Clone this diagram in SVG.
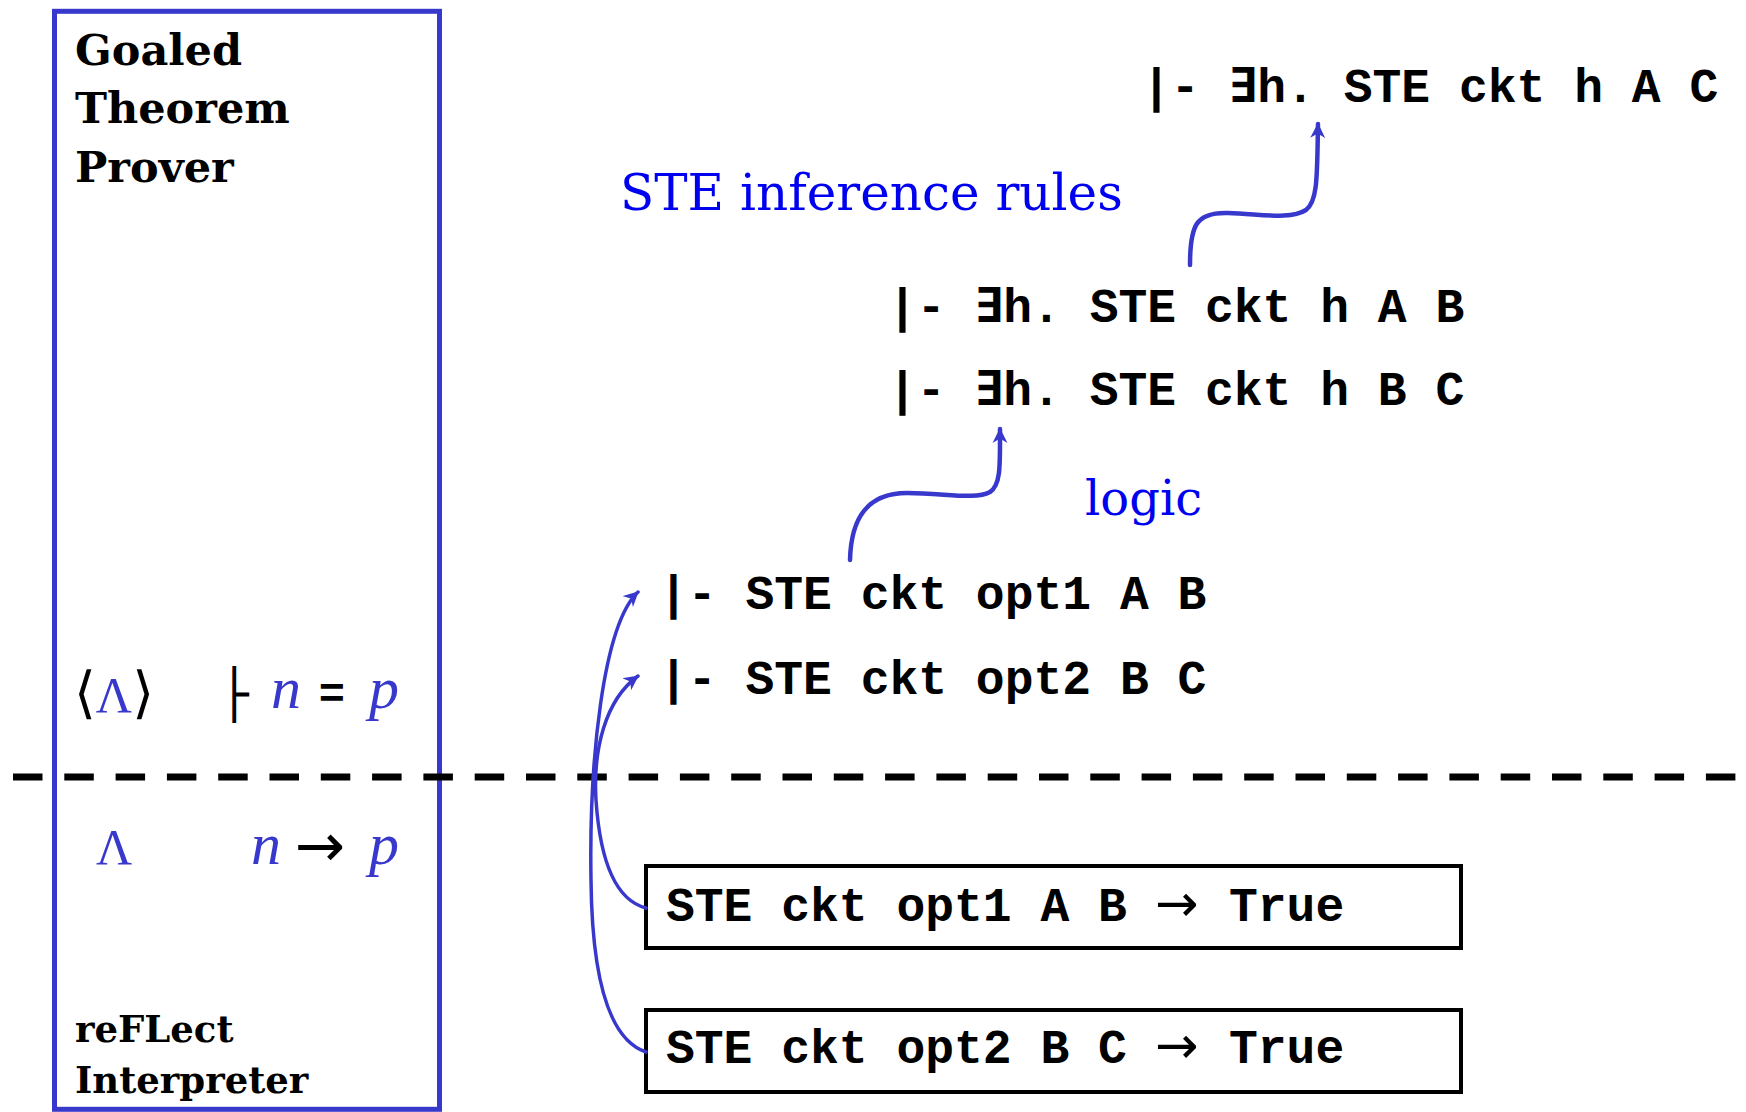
<svg xmlns="http://www.w3.org/2000/svg" width="1746" height="1112" viewBox="0 0 1746 1112">
  <defs>
    <style>
      .mono { font-family: "Liberation Mono", "DejaVu Sans Mono", monospace; font-weight: bold; font-size: 48px; fill: #000; }
      .title { font-family: "DejaVu Serif", "Liberation Serif", serif; font-weight: bold; fill: #000; }
      .label { font-family: "DejaVu Serif", "Liberation Serif", serif; fill: #0000F0; }
      .math { font-family: "Liberation Serif", "DejaVu Serif", serif; fill: #3838CC; }
      .mathi { font-family: "Liberation Serif", "DejaVu Serif", serif; font-style: italic; fill: #3838CC; }
      .arrowch { font-family: "DejaVu Sans", sans-serif; font-weight: normal; fill: #000; }
      .conn { fill: none; stroke: #3838CC; stroke-linecap: round; }
      .box { fill: #fff; stroke: #000; stroke-width: 4; }
    </style>
    <marker id="ah" markerUnits="userSpaceOnUse" markerWidth="16" markerHeight="16" viewBox="0 0 16 16" refX="14" refY="8" orient="auto">
      <path d="M0,0.5 L15,8 L0,15.5 L4.5,8 z" fill="#3838CC"/>
    </marker>
  </defs>
  <rect width="1746" height="1112" fill="#fff"/>

  <!-- left panel -->
  <g id="prover-panel">
    <rect x="54.5" y="11.3" width="385" height="1098" fill="none" stroke="#3838CC" stroke-width="5"/>
    <text class="title" font-size="43" x="75" y="65">Goaled</text>
    <text class="title" font-size="43" x="75" y="123">Theorem</text>
    <text class="title" font-size="43" x="75" y="182">Prover</text>
    <text class="title" font-size="37" x="75" y="1042">reFLect</text>
    <text class="title" font-size="37" x="75" y="1093">Interpreter</text>
  </g>

  <g id="upper-math">
    <text x="74" y="712" font-size="56" font-family="Liberation Serif, DejaVu Serif, serif" fill="#000">⟨<tspan fill="#3838CC" font-size="50">Λ</tspan>⟩</text>
    <text x="220" y="711" font-size="48" font-family="DejaVu Sans Mono, monospace" fill="#000">├</text>
    <text class="mathi" x="271" y="708" font-size="60">n</text>
    <text x="319" y="708" font-size="44" font-family="Liberation Sans, sans-serif" font-weight="bold" fill="#000">=</text>
    <text class="mathi" x="369" y="708" font-size="60">p</text>
  </g>

  <g id="lower-math">
    <text class="math" x="96" y="864" font-size="50">Λ</text>
    <text class="mathi" x="251" y="864" font-size="60">n</text>
    <text class="arrowch" x="295" y="866" font-size="60">→</text>
    <text class="mathi" x="369" y="864" font-size="60">p</text>
  </g>

  <!-- dashed separator -->
  <line x1="13" y1="777" x2="1740" y2="777" stroke="#000" stroke-width="7" stroke-dasharray="29.5 21.8"/>

  <!-- theorem nodes -->
  <g id="goal-AC"><text class="mono" x="1142" y="102">|- ∃h. STE ckt h A C</text></g>
  <g id="lemma-AB"><text class="mono" x="888" y="322">|- ∃h. STE ckt h A B</text></g>
  <g id="lemma-BC"><text class="mono" x="888" y="405">|- ∃h. STE ckt h B C</text></g>
  <g id="thm-opt1"><text class="mono" x="659" y="609">|- STE ckt opt1 A B</text></g>
  <g id="thm-opt2"><text class="mono" x="659" y="694">|- STE ckt opt2 B C</text></g>

  <g id="eval-opt1">
    <rect class="box" x="646" y="866" width="815" height="82"/>
    <text class="mono" x="666" y="921">STE ckt opt1 A B <tspan class="arrowch" x="1155" font-size="52">→</tspan><tspan x="1229">True</tspan></text>
  </g>
  <g id="eval-opt2">
    <rect class="box" x="646" y="1010" width="815" height="82"/>
    <text class="mono" x="666" y="1063">STE ckt opt2 B C <tspan class="arrowch" x="1155" font-size="52">→</tspan><tspan x="1229">True</tspan></text>
  </g>

  <g id="label-ste"><text class="label" x="620" y="210" font-size="50">STE inference rules</text></g>
  <g id="label-logic"><text class="label" x="1085" y="515" font-size="48">logic</text></g>

  <!-- connectors -->
  <g id="connectors">
    <path class="conn" stroke-width="4.5" marker-end="url(#ah)" d="M1190,265 C1190,225 1196,212 1228,213 C1262,214 1290,220 1306,210 C1318,201 1317,175 1318,124"/>
    <path class="conn" stroke-width="4.5" marker-end="url(#ah)" d="M850,560 C851,520 866,493 907,493 C945,493 975,500 990,492 C1001,485 1000,465 1000,429"/>
    <path class="conn" stroke-width="3.5" marker-end="url(#ah)" d="M646,1052 C610,1040 592,980 591,880 C589,760 603,625 638,592"/>
    <path class="conn" stroke-width="3.5" marker-end="url(#ah)" d="M646,908 C615,900 600,860 596,800 C593,750 605,700 638,676"/>
  </g>
</svg>
